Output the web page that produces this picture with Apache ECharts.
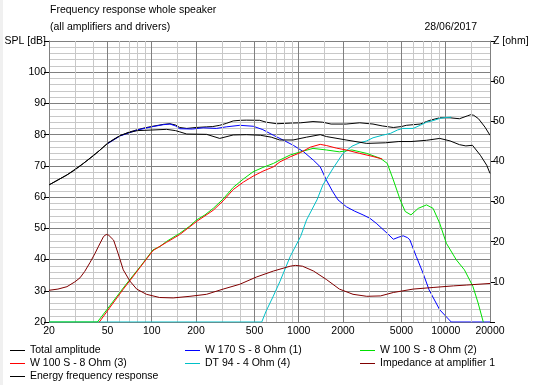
<!DOCTYPE html>
<html><head><meta charset="utf-8">
<script src="https://cdn.jsdelivr.net/npm/echarts@6/dist/echarts.min.js"></script>
<style>html,body{margin:0;padding:0;background:#fff}#c{width:538px;height:385px}</style>
</head><body><div id="c"></div><script>
const FONT = '"Liberation Sans", Arial, sans-serif';
const FS = 10.5;

// Titles / texts
const titleLine1 = 'Frequency response whole speaker';
const titleLine2 = '(all amplifiers and drivers)';
const dateText = '28/06/2017';
const leftAxisName = 'SPL [dB]';
const rightAxisName = 'Z [ohm]';

// x grid / tick labels (Hz)
const xMajor = [20, 50, 100, 200, 500, 1000, 2000, 5000, 10000, 20000];
const xMinor = [30, 40, 60, 70, 80, 90, 150, 300, 400, 600, 700, 800, 900, 1500, 3000, 4000, 6000, 7000, 8000, 9000, 15000];

// Series: [frequency Hz, value]
const totalAmplitude = [[20,63.9],[23,65.5],[26.5,67.1],[30,68.7],[34.3,70.8],[40,73.2],[44.3,75.0],[50,77.2],[55,78.5],[61,79.7],[70,80.8],[80,81.6],[90,82.2],[102,82.7],[120,83.3],[133,83.5],[145,83.1],[155,82.3],[173,82.0],[200,82.3],[236,82.5],[260,82.6],[290,83.0],[321,83.6],[358,84.4],[400,84.6],[440,84.65],[543,84.6],[600,84.0],[709,83.5],[875,83.7],[1030,83.8],[1250,84.2],[1450,84.0],[1660,83.4],[2100,83.4],[2600,83.8],[3200,83.4],[3700,82.8],[4400,82.3],[5000,82.6],[5400,83.0],[6700,83.4],[7400,84.2],[7800,84.6],[9100,85.4],[10700,85.4],[12400,85.1],[14000,86.0],[14800,86.4],[15500,86.2],[16700,85.1],[18500,82.4],[20000,79.8]];
const w170 = [[50,77.1],[61,79.6],[80,81.5],[102,82.6],[120,83.2],[133,83.4],[145,82.8],[155,81.9],[189,81.8],[224,82.2],[275,82.0],[321,82.5],[397,83.0],[490,82.7],[570,81.6],[673,79.8],[789,78.2],[918,76.6],[1080,74.5],[1260,71.8],[1400,69.7],[1540,65.5],[1700,61.8],[1850,59.1],[2110,56.9],[2400,55.5],[2740,54.3],[3050,53.2],[3370,51.6],[4000,48.4],[4400,46.5],[4800,47.2],[5140,47.6],[5500,47.0],[5700,46.3],[6300,41.0],[7000,35.7],[7700,30.3],[9100,23.9],[10900,20],[20000,20]];
const w100a = [[20,20],[42.7,20],[50,24.2],[64,30.9],[71,33.6],[83.4,37.7],[102,43.1],[113,44.1],[126,45.8],[155,48.4],[180,50.6],[202,52.7],[230,54.3],[262,56.4],[306,59.4],[358,63.1],[420,65.8],[489,68.1],[570,69.5],[673,70.8],[745,71.9],[875,73.5],[1030,74.5],[1250,75.6],[1540,75.1],[1890,74.5],[2300,75.1],[2900,74.0],[3600,72.4],[4000,70.8],[4400,65.5],[4900,59.1],[5300,55.4],[5800,54.3],[6500,56.4],[7400,57.5],[8200,56.4],[9100,51.6],[10100,45.2],[11800,39.9],[13400,36.7],[15300,31.4],[16600,26.1],[18000,20]];
const w100b = [[44,20],[50,23.6],[64,30.5],[83,37.4],[102,42.9],[126,45.5],[155,48.0],[202,52.2],[262,55.8],[306,58.8],[358,62.4],[420,64.8],[489,66.7],[570,68.3],[673,69.7],[745,71.3],[875,72.9],[1030,74.3],[1200,76.0],[1400,76.9],[1550,76.5],[1800,75.7],[2100,75.1],[2600,74.0],[3200,73.0],[3700,72.2]];
const dt94 = [[20,20],[560,20],[600,23.5],[670,28.2],[745,33.0],[875,41.0],[1030,47.4],[1130,52.7],[1330,59.1],[1460,63.9],[1700,69.0],[2000,74.0],[2300,76.3],[2600,77.4],[2900,78.0],[3200,79.0],[3700,79.8],[4200,80.4],[4700,81.5],[5100,82.0],[6000,82.0],[6700,83.0],[7400,84.0],[8200,84.5],[9100,85.2],[10000,85.5],[10900,85.6]];
const impedance = [[20,7.9],[23,8.2],[26.5,8.8],[30,10.0],[32.5,11.0],[35,12.6],[38,14.8],[41,17.0],[43.5,18.9],[47,21.3],[49,21.8],[51,21.6],[55,20.4],[59,17.1],[64,13.0],[71,10.2],[79,8.2],[92,6.9],[113,6.1],[140,6.0],[182,6.4],[236,6.9],[306,8.2],[397,9.4],[515,11.2],[673,12.7],[875,13.9],[950,14.1],[1060,13.9],[1260,12.7],[1540,10.6],[1890,8.2],[2340,6.9],[2900,6.4],[3600,6.5],[4400,7.35],[6000,8.2],[8200,8.6],[11300,9.0],[13800,9.2],[20000,9.6]];
const energy = [[20,63.9],[26.5,67.1],[34.3,70.8],[44.3,75.0],[50,77.2],[61,79.7],[70,80.7],[80,81.3],[102,81.5],[126,81.7],[145,81.3],[155,80.9],[173,80.2],[236,80.1],[290,78.8],[358,79.9],[440,80.0],[550,79.8],[650,79.2],[742,78.3],[915,78.3],[1130,79.2],[1400,80.0],[1540,79.4],[2100,78.3],[2900,77.2],[3900,77.4],[4800,77.8],[5800,77.8],[7400,78.2],[9100,78.8],[10700,78.0],[12400,76.8],[13700,76.4],[15200,76.6],[17200,73.4],[19000,70.2],[20000,67.6]];

const seriesDefs = [
  {name:'Total amplitude', data: totalAmplitude, color:'#000000', y:0, z:3},
  {name:'W 170 S - 8 Ohm (1)', data: w170, color:'#0000ff', y:0, z:4},
  {name:'W 100 S - 8 Ohm (2)', data: w100a, color:'#00e000', y:0, z:6},
  {name:'W 100 S - 8 Ohm (3)', data: w100b, color:'#ff0000', y:0, z:7},
  {name:'DT 94 - 4 Ohm (4)', data: dt94, color:'#00c0c8', y:0, z:5},
  {name:'Impedance at amplifier 1', data: impedance, color:'#800000', y:1, z:8},
  {name:'Energy frequency response', data: energy, color:'#000000', y:0, z:9}
];

const chart = echarts.init(document.getElementById('c'), null, {renderer:'canvas'});
const txt = {color:'#000', fontFamily: FONT, fontSize: FS};

const series = seriesDefs.map(d => ({
  name: d.name, type:'line', data: d.data, yAxisIndex: d.y, z: d.z,
  showSymbol:false, symbol:'none', smooth:false, animation:false, silent:true,
  lineStyle:{color:d.color, width:1}, itemStyle:{color:d.color}
}));

function gridSeries(vals, color, withLabels){
  return {
    type:'line', data:[], z:1, silent:true, animation:false, showSymbol:false,
    markLine:{
      silent:true, animation:false, symbol:['none','none'], precision:0,
      lineStyle:{color:color, width:1, type:'solid'},
      label: withLabels ? {show:true, position:'start', distance:4, formatter:'{b}', color:'#000', fontFamily:FONT, fontSize:FS} : {show:false},
      emphasis:{disabled:true},
      data: vals.map(v => ({xAxis: v, name: String(v)}))
    }
  };
}
series.unshift(gridSeries(xMajor, '#808080', true));
series.unshift(gridSeries(xMinor, '#c8c8c8', false));

const legendBase = {
  orient:'vertical', top:344, itemWidth:15, itemHeight:1, itemGap:0, padding:0,
  icon:'rect', selectedMode:false,
  textStyle:{color:'#000', fontFamily:FONT, fontSize:FS, lineHeight:13}
};

chart.setOption({
  animation:false,
  backgroundColor:'#ffffff',
  graphic:[{type:'rect', left:0, top:0, shape:{x:0, y:0, width:3, height:385}, style:{fill:'#f0f0f0'}, silent:true}],
  title:[
    {text:titleLine1, left:50, top:5, padding:0, textStyle:{...txt, fontWeight:'normal'}},
    {text:titleLine2, left:50, top:22, padding:0, textStyle:{...txt, fontWeight:'normal'}},
    {text:dateText, right:61, top:22, padding:0, textStyle:{...txt, fontWeight:'normal'}}
  ],
  legend:[
    {...legendBase, left:10, data:['Total amplitude','W 100 S - 8 Ohm (3)','Energy frequency response']},
    {...legendBase, left:185, data:['W 170 S - 8 Ohm (1)','DT 94 - 4 Ohm (4)']},
    {...legendBase, left:360, data:['W 100 S - 8 Ohm (2)','Impedance at amplifier 1']}
  ],
  grid:{left:49, right:48, top:41, bottom:63, containLabel:false},
  xAxis:{
    type:'log', logBase:10, min:20, max:20000,
    axisLine:{show:true, lineStyle:{color:'#808080'}},
    axisTick:{show:false}, axisLabel:{show:false}, splitLine:{show:false}
  },
  yAxis:[
    {type:'value', position:'left', min:20, max:110, interval:10,
     axisLine:{show:true, lineStyle:{color:'#808080'}},
     axisTick:{show:true, length:5, lineStyle:{color:'#000'}},
     axisLabel:{...txt, margin:3, formatter: v => v === 110 ? leftAxisName : String(v)},
     splitLine:{show:true, lineStyle:{color:'#808080'}},
     minorTick:{show:true, splitNumber:5, length:0, lineStyle:{color:'rgba(0,0,0,0)', width:0}},
     minorSplitLine:{show:true, lineStyle:{color:'#c8c8c8', width:1}}
    },
    {type:'value', position:'right', min:0, max:70, interval:10,
     axisLine:{show:true, lineStyle:{color:'#808080'}},
     axisTick:{show:true, length:5, lineStyle:{color:'#000'}},
     axisLabel:{...txt, margin:3, formatter: v => v === 70 ? rightAxisName : (v === 0 ? '' : String(v))},
     splitLine:{show:false}
    }
  ],
  series: series
});
</script></body></html>
